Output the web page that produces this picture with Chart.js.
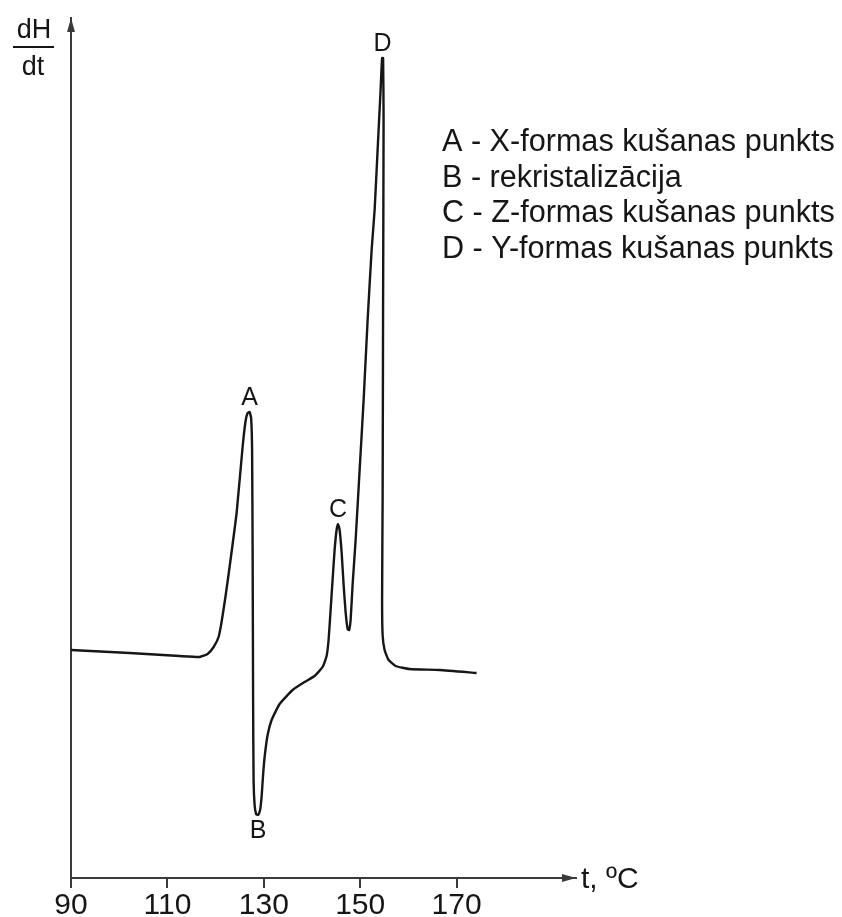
<!DOCTYPE html>
<html>
<head>
<meta charset="utf-8">
<script src="https://cdn.jsdelivr.net/npm/chart.js@4"></script>
<style>
  html, body { margin: 0; padding: 0; background: #fff; }
  #dscChart { display: block; }
</style>
</head>
<body>
<canvas id="dscChart" width="842" height="917"></canvas>
<script>
// DSC heating curve, temperature in °C
const tempC = [
  90.0, 102.16, 112.53, 116.68, 118.34, 119.59, 120.62, 121.24, 122.07, 122.90,
  124.36, 125.60, 126.22, 126.64, 127.05, 127.37, 127.57, 127.68, 127.78, 127.88,
  128.09, 128.40, 128.82, 129.23, 129.54, 129.85, 130.17, 130.79, 131.62, 133.28,
  135.98, 138.46, 140.54, 142.20, 143.03, 143.44, 143.86, 144.27, 144.69, 145.10,
  145.41, 145.73, 146.14, 146.56, 146.97, 147.39, 147.70, 148.01, 148.42, 149.05,
  149.88, 150.71, 151.54, 152.37, 152.99, 153.61, 154.23, 154.54, 154.75, 154.85,
  154.75, 154.65, 154.54, 154.65, 155.06, 155.89, 157.34, 160.25, 166.47, 174.15,
];
// dH/dt signal, arbitrary units
const heatFlow = [
  22.8, 22.5, 22.2, 22.1, 22.4, 23.1, 24.1, 25.6, 28.2, 31.1,
  36.5, 43.1, 45.7, 46.5, 46.6, 46.0, 42.8, 32.8, 17.8, 9.8,
  7.3, 6.4, 6.3, 6.8, 8.1, 10.3, 12.1, 14.3, 15.8, 17.4,
  18.8, 19.6, 20.2, 21.1, 22.2, 23.8, 26.8, 29.8, 32.8, 34.8,
  35.4, 34.8, 32.6, 29.3, 26.6, 24.9, 24.8, 25.8, 29.3, 33.8,
  40.8, 47.8, 55.8, 62.8, 66.8, 72.8, 78.8, 82.0, 82.0, 75.8,
  57.8, 37.8, 27.8, 24.3, 22.8, 21.8, 21.2, 20.9, 20.8, 20.5,
];

const xTicks = [90, 110, 130, 150, 170];

// peak letters and the curve point they sit on
const peakNames = ["A", "B", "C", "D"];
const peakTemp = [127.05, 128.82, 145.41, 154.65];
const peakValue = [46.6, 6.3, 35.4, 82.0];
const peakBelow = [false, true, false, false];

const legendLines = [
  "A - X-formas kušanas punkts",
  "B - rekristalizācija",
  "C - Z-formas kušanas punkts",
  "D - Y-formas kušanas punkts",
];

const FONT = "'Liberation Sans', Arial, sans-serif";
const INK = "#161616";
const AXIS = "#3a3a3a";

const points = tempC.map((t, i) => ({ x: t, y: heatFlow[i] }));

const annotate = {
  id: "annotate",
  afterDraw(chart) {
    const { ctx, chartArea, scales } = chart;
    const x0 = chartArea.left;
    const y0 = chartArea.bottom;
    ctx.save();

    // arrow heads on both axes
    ctx.fillStyle = AXIS;
    ctx.beginPath();
    ctx.moveTo(x0, chartArea.top);
    ctx.lineTo(x0 - 4, chartArea.top + 14);
    ctx.lineTo(x0 + 4, chartArea.top + 14);
    ctx.closePath();
    ctx.fill();

    ctx.beginPath();
    ctx.moveTo(chartArea.right, y0);
    ctx.lineTo(chartArea.right - 14, y0 - 4);
    ctx.lineTo(chartArea.right - 14, y0 + 4);
    ctx.closePath();
    ctx.fill();

    // axis names
    ctx.fillStyle = INK;
    ctx.font = `27px ${FONT}`;
    ctx.textAlign = "center";
    ctx.textBaseline = "alphabetic";
    ctx.fillText("dH", 34, 38);
    ctx.fillText("dt", 33, 75);
    ctx.fillRect(13, 46, 41, 2);

    ctx.font = `30px ${FONT}`;
    ctx.textAlign = "left";
    ctx.fillText("t, ºC", 581, 888);

    // legend
    ctx.font = `30.6px ${FONT}`;
    legendLines.forEach((line, i) => {
      ctx.fillText(line, 442, 151 + i * 35.7);
    });

    // peak letters
    ctx.font = `25px ${FONT}`;
    ctx.textAlign = "center";
    peakNames.forEach((name, i) => {
      const px = scales.x.getPixelForValue(peakTemp[i]);
      const py = scales.y.getPixelForValue(peakValue[i]);
      if (peakBelow[i]) {
        ctx.textBaseline = "top";
        ctx.fillText(name, px, py + 4);
      } else {
        ctx.textBaseline = "alphabetic";
        ctx.fillText(name, px, py - 7);
      }
    });

    ctx.restore();
  },
};

new Chart(document.getElementById("dscChart").getContext("2d"), {
  type: "scatter",
  data: {
    datasets: [
      {
        data: points,
        showLine: true,
        borderColor: INK,
        borderWidth: 2.4,
        pointRadius: 0,
        tension: 0.15,
      },
    ],
  },
  options: {
    responsive: false,
    animation: false,
    devicePixelRatio: 1,
    layout: { padding: { left: 71, right: 266, top: 18, bottom: 0 } },
    plugins: { legend: { display: false }, tooltip: { enabled: false } },
    scales: {
      x: {
        type: "linear",
        min: 90,
        max: 194.77,
        afterBuildTicks: (scale) => {
          scale.ticks = xTicks.map((v) => ({ value: v }));
        },
        afterFit: (scale) => {
          scale.height = 39;
        },
        grid: { drawOnChartArea: false, drawTicks: true, tickLength: 10, color: AXIS, lineWidth: 2 },
        border: { display: true, color: AXIS, width: 2 },
        ticks: {
          color: INK,
          font: { family: FONT, size: 30 },
          padding: 0,
          maxRotation: 0,
          autoSkip: false,
        },
      },
      y: {
        min: 0,
        max: 86,
        afterFit: (scale) => {
          scale.width = 0;
        },
        ticks: { display: false },
        grid: { display: false },
        border: { display: true, color: AXIS, width: 2 },
      },
    },
  },
  plugins: [annotate],
});
</script>
</body>
</html>
